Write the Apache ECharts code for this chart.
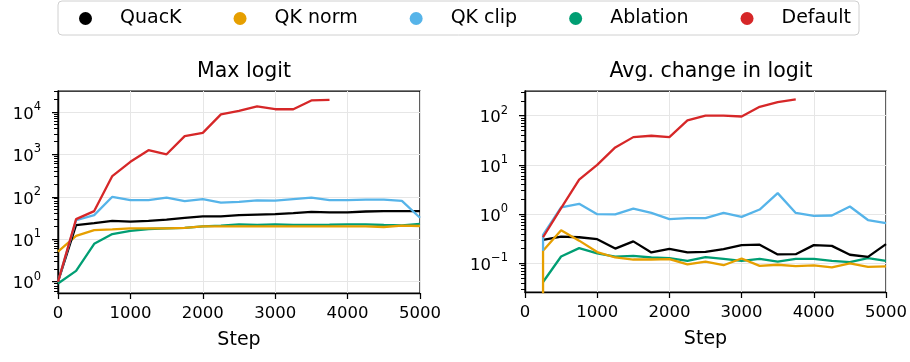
<!DOCTYPE html>
<html>
<head>
<meta charset="utf-8">
<script src="https://cdn.jsdelivr.net/npm/echarts@6/dist/echarts.min.js"></script>
<style>
html,body{margin:0;padding:0;background:#fff;}
#chart{width:910px;height:362px;}
</style>
</head>
<body>
<div id="chart"></div>
<script>
// series names (legend order)
var names = ['QuacK', 'QK norm', 'QK clip', 'Ablation', 'Default'];
var colors = ['#000000', '#E69F00', '#56B4E9', '#009E73', '#D62728'];

// Max logit (left)
var steps = [0,250,500,750,1000,1250,1500,1750,2000,2250,2500,2750,3000,3250,3500,3750,4000,4250,4500,4750,5000];
var quackMax = [1.0,21.6,24,27,26,27,29,32,34.5,34.5,37,38,39,41,44,43,43,45,46,46,46];
var normMax = [5.1,12,16.4,17,18,18,18,18.6,20,20,20,20,20,20,20,20,20,20,19.4,21,20.5];
var clipMax = [1.0,28,37,100,83,83,95,79,88,73,76,82,81,88,95,83,83,86,86,80,32];
var ablMax = [0.91,1.8,7.8,13.2,15.8,17.4,18,18.6,20,21,22.3,21.6,22.3,21.6,21.6,21.9,22.3,22.3,21.6,21.3,23];
var defMax = [1.0,29.8,46,307,666,1250,1000,2680,3200,8700,10500,13400,11500,11500,18500,19000]; // stops at 3750

// Avg. change in logit (right)
var chgSteps = [250,500,750,1000,1250,1500,1750,2000,2250,2500,2750,3000,3250,3500,3750,4000,4250,4500,4750,5000];
var quackChg = [0.30,0.35,0.34,0.31,0.20,0.28,0.167,0.198,0.167,0.171,0.195,0.235,0.24,0.152,0.154,0.235,0.227,0.15,0.136,0.246];
var normChg = [0.18,0.47,0.29,0.17,0.132,0.12,0.12,0.122,0.096,0.109,0.092,0.126,0.089,0.094,0.088,0.091,0.083,0.10,0.085,0.087];
var clipChg = [0.38,1.37,1.62,1.0,0.99,1.30,1.06,0.79,0.83,0.83,1.06,0.88,1.24,2.67,1.06,0.92,0.94,1.43,0.76,0.66];
var ablChg = [0.042,0.138,0.204,0.16,0.138,0.142,0.132,0.128,0.113,0.134,0.124,0.113,0.124,0.109,0.124,0.124,0.113,0.106,0.128,0.113];
var defChg = [0.34,1.32,5.0,10,22.6,36.6,39,36.6,80,100,100,96,151,188,213]; // stops at 3750
var normChgStart = 0.001; // first point at step 250 drops off the bottom
var clipChgStart = 0.18;

// ticks
var xTicks = [0,1000,2000,3000,4000,5000];
var majorMax = [1,10,100,1000,10000];
var majorChg = [0.1,1,10,100];
var minorMult = [2,3,4,5,6,7,8,9];

var FONT = 'DejaVu Sans';

function pairs(xs, ys) {
	return ys.map(function(v, i){ return [xs[i], v]; });
}
function minorTicks(decades, lo, hi) {
	var out = [];
	decades.forEach(function(d){
		minorMult.forEach(function(m){
			var v = d * m;
			if (v > lo && v < hi) out.push(v);
		});
	});
	return out;
}

var yRange = [[0.542, 30900], [0.0263, 316]];
var minorMax = minorTicks([0.1,1,10,100,1000,10000], yRange[0][0], yRange[0][1]);
var minorChg = minorTicks([0.01,0.1,1,10,100], yRange[1][0], yRange[1][1]);

function powLabel(v) {
	var e = Math.round(Math.log10(v));
	return '{b|10}{s|' + (e < 0 ? '\u2212' + (-e) : e) + '}';
}

var labelRich = {
	b: {fontSize: 16.5, fontFamily: FONT, color: '#000', verticalAlign: 'bottom', lineHeight: 22},
	s: {fontSize: 11.5, fontFamily: FONT, color: '#000', verticalAlign: 'top', lineHeight: 14}
};

function xAxisOpt(idx) {
	return {
		gridIndex: idx, type: 'value', min: 0, max: 5000, interval: 1000,
		name: 'Step', nameLocation: 'middle', nameGap: 38,
		nameTextStyle: {fontSize: 19, fontFamily: FONT, color: '#000'},
		axisLine: {show: true, onZero: false, lineStyle: {color: '#000', width: 1.25}},
		axisTick: {show: true, length: 6, lineStyle: {color: '#000', width: 1.25}},
		axisLabel: {fontSize: 16.5, fontFamily: FONT, color: '#000', margin: 12,
			formatter: function(v){ return String(v); }},
		splitLine: {show: true, lineStyle: {color: '#e6e6e6', width: 1}}
	};
}
function yMajor(idx, rng, major) {
	return {
		gridIndex: idx, type: 'log', position: 'left', min: rng[0], max: rng[1],
		axisLine: {show: true, lineStyle: {color: '#000', width: 1.25}},
		axisTick: {show: true, customValues: major, length: 6, lineStyle: {color: '#000', width: 1.25}},
		axisLabel: {customValues: major, formatter: powLabel, rich: labelRich, margin: 17},
		splitLine: {show: true, lineStyle: {color: '#e6e6e6', width: 1}}
	};
}
// second axis on the same side, only for the minor log ticks (linear in log10 space)
function yMinor(idx, rng, minor) {
	return {
		gridIndex: idx, type: 'value', position: 'left', offset: 0,
		min: Math.log10(rng[0]), max: Math.log10(rng[1]),
		axisLine: {show: true, onZero: false, lineStyle: {color: '#000', width: 1.25}},
		axisTick: {show: true, customValues: minor.map(Math.log10), length: 4, lineStyle: {color: '#000', width: 1}},
		axisLabel: {show: false},
		splitLine: {show: false}
	};
}

function line(name, xi, yi, data, z) {
	var k = names.indexOf(name);
	return {
		name: name, type: 'line', xAxisIndex: xi, yAxisIndex: yi,
		data: data, showSymbol: false, symbol: 'none', clip: true, z: z,
		lineStyle: {color: colors[k], width: 2.3}, itemStyle: {color: colors[k]}
	};
}
// empty helper so the minor-tick axis is not treated as unused
function tickHolder(xi, yi) {
	return {type: 'line', xAxisIndex: xi, yAxisIndex: yi, data: [], silent: true, showSymbol: false};
}

var chart = echarts.init(document.getElementById('chart'));
var option = {
	animation: false,
	backgroundColor: '#fff',
	title: [
		{text: 'Max logit', left: 239, top: 56, textAlign: 'center',
		 textStyle: {fontSize: 20.5, fontWeight: 'normal', fontFamily: FONT, color: '#000'}},
		{text: 'Avg. change in logit', left: 706, top: 56, textAlign: 'center',
		 textStyle: {fontSize: 20.5, fontWeight: 'normal', fontFamily: FONT, color: '#000'}}
	],
	legend: {
		data: names, left: 79, top: 9, padding: 0, icon: 'circle',
		itemWidth: 13, itemHeight: 13, itemGap: 52,
		textStyle: {fontSize: 19, fontFamily: FONT, color: '#000', padding: [0, 0, 0, 23]}
	},
	graphic: [{
		type: 'rect', z: -1, silent: true,
		shape: {x: 58, y: 1, width: 801, height: 34, r: 4},
		style: {fill: '#fff', stroke: '#d0d0d0', lineWidth: 1}
	}],
	grid: [
		{left: 58, right: 490, top: 91, bottom: 69, show: true, borderColor: '#000', borderWidth: 1.25, backgroundColor: 'transparent'},
		{left: 525, right: 23, top: 91, bottom: 70, show: true, borderColor: '#000', borderWidth: 1.25, backgroundColor: 'transparent'}
	],
	xAxis: [xAxisOpt(0), xAxisOpt(1)],
	yAxis: [
		yMajor(0, yRange[0], majorMax), yMinor(0, yRange[0], minorMax),
		yMajor(1, yRange[1], majorChg), yMinor(1, yRange[1], minorChg)
	],
	series: [
		line('Ablation', 0, 0, pairs(steps, ablMax), 2),
		line('QK norm', 0, 0, pairs(steps, normMax), 3),
		line('QuacK', 0, 0, pairs(steps, quackMax), 4),
		line('QK clip', 0, 0, pairs(steps, clipMax), 5),
		line('Default', 0, 0, pairs(steps, defMax), 6),
		tickHolder(0, 1),

		line('Ablation', 1, 2, pairs(chgSteps, ablChg), 2),
		line('QuacK', 1, 2, pairs(chgSteps, quackChg), 3),
		line('QK norm', 1, 2, [[250, normChgStart]].concat(pairs(chgSteps, normChg)), 4),
		line('QK clip', 1, 2, [[250, clipChgStart]].concat(pairs(chgSteps, clipChg)), 5),
		line('Default', 1, 2, pairs(chgSteps, defChg), 6),
		tickHolder(1, 3)
	]
};
chart.setOption(option);
</script>
</body>
</html>
